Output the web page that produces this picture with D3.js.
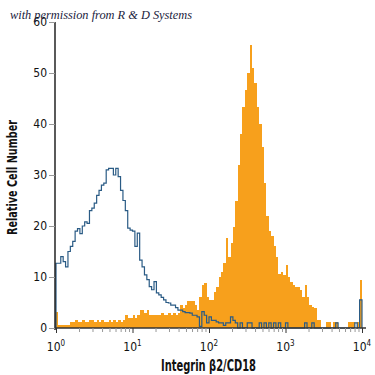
<!DOCTYPE html>
<html><head><meta charset="utf-8">
<script src="https://cdn.jsdelivr.net/npm/d3@7"></script>
<style>
html,body{margin:0;padding:0;background:#fff;}
svg{display:block;}
</style></head>
<body>
<svg id="c" width="375" height="375"></svg>
<script>
// ---- data ----
const binsPerDecade = 32;
const xDomain = [1, 10000];
const yTicks = [0, 10, 20, 30, 40, 50, 60];
const xMajorTicks = [1, 10, 100, 1000, 10000];
const xTickExponents = ["0", "1", "2", "3", "4"];
const title = "with permission from R & D Systems";
const xLabel = "Integrin β2/CD18";
const yLabel = "Relative Cell Number";

// isotype control (blue outline), 128 bins over 4 decades
const isotype = [
 12.7,12.7,14,13,12,15,16,17,19,19.5,18.5,20,20.8,20.5,23,23.5,
 24.5,26,27,28,28.4,31,31.3,31.3,30,31.3,29.7,27,25,23,19.6,19.2,
 19,16,18.6,13.3,12,10.4,9.5,8.1,7.5,9.1,6.9,6.5,6,5.5,5,4.9,
 4.5,4.5,4,3.5,3.5,3.2,3,3,2.9,2.5,2.5,2.2,0.3,3.2,2.5,1,
 2.2,1.5,1.5,1.2,1,1,0.5,1,1,2.2,1.5,1,0,1,0,0,
 1,1,0,0,0,1,0,1,0,1,0,1,0,1,0,0,
 1,0,0,0,0,0,0,0,1,0,0,1,0,0,0,0,
 0,0,0,0,0,1,0,0,0,0,0,0,0,1,0,5.5
];
// stained sample (orange filled), 128 bins
const stained = [
 3.2,0.6,0.6,0.6,0.6,0.6,1.2,1.2,1.5,1.2,1.2,1.5,1.2,1.2,1.5,1.5,
 1.2,1.5,1.2,1.5,1.2,1.2,1.5,1.2,1.5,1.2,1.5,1.2,1.5,2.5,2,2,
 2.5,2,2.5,3.5,3.5,3,3.5,2.5,2.5,2.5,2.5,2.5,3,2.5,2.5,3,
 2.5,3,2.5,3,4.5,4,4.5,5.2,5.2,5.2,4.5,3.5,6,8.4,8.8,6,
 5.5,5.5,7,8,10,11,12.7,17.6,14,16.6,19.9,25,32,38,43.4,46.7,
 50,55.5,51,48,43.4,40,35.5,28.4,22,19,18,16,14,10.5,11,10.4,
 12.4,10,9,8.5,8.1,8,7.5,6.1,8.4,6,4.5,4.2,4,1.6,1.6,0,
 0,1.2,1.2,0,1.2,1.2,0,0,0,0,1.2,1.2,1.2,0,1.2,9.4
];

// ---- chart ----
const svg = d3.select("#c");
const font = "'DejaVu Sans Condensed','Liberation Sans Narrow',sans-serif";
const x = d3.scaleLog().domain(xDomain).range([56, 362]);
const y = d3.scaleLinear().domain([0, 60]).range([328, 22]);
const edge = i => Math.pow(10, i / binsPerDecade);
const steps = arr => {
  const p = [[1, 0]];
  arr.forEach((d, i) => { p.push([edge(i), d]); p.push([edge(i + 1), d]); });
  p.push([edge(arr.length), 0]);
  return p;
};
const line = d3.line().x(d => x(d[0])).y(d => y(d[1]));

// orange filled histogram
svg.append("path").attr("d", line(steps(stained)) + "Z")
  .attr("fill", "#f7a01c").attr("stroke", "none").attr("shape-rendering", "crispEdges");

// blue step outline
svg.append("path").attr("d", line(steps(isotype)))
  .attr("fill", "none").attr("stroke", "#2a5b85").attr("stroke-width", 1.2);

// y axis
const ya = svg.append("g").attr("transform", "translate(55,0)")
  .call(d3.axisLeft(y).tickValues(yTicks).tickSize(6).tickPadding(2));
ya.select(".domain").attr("stroke", "#000").attr("stroke-width", 1.3).attr("d", "M0,22V330");
ya.selectAll(".tick line").attr("stroke", "#999");
ya.selectAll(".tick text").attr("font-family", font).attr("font-size", 12).attr("fill", "#111");

// x axis
const minor = [];
for (let p = 0; p < 4; p++) for (let k = 2; k <= 9; k++) minor.push(k * Math.pow(10, p));
const xa = svg.append("g").attr("transform", "translate(0,328)");
xa.call(d3.axisBottom(x).tickValues(xMajorTicks).tickSize(5).tickFormat(""));
xa.select(".domain").attr("stroke", "#333").attr("stroke-width", 1.3).attr("d", "M55,0H366");
xa.selectAll(".tick line").attr("stroke", "#333");
const xm = svg.append("g").attr("transform", "translate(0,328)")
  .call(d3.axisBottom(x).tickValues(minor).tickSize(4).tickFormat(""));
xm.select(".domain").remove();
xm.selectAll(".tick line").attr("stroke", "#999");

const lbl = svg.append("g");
xMajorTicks.forEach((v, i) => {
  const t = lbl.append("text").attr("x", x(v)).attr("y", 351)
    .attr("text-anchor", "middle").attr("font-family", font).attr("font-size", 12).attr("fill", "#111");
  t.append("tspan").text("10");
  t.append("tspan").attr("dy", -5).attr("font-size", 8).text(xTickExponents[i]);
});

// labels
svg.append("text").attr("x", 161).attr("y", 371)
  .attr("textLength", 95).attr("lengthAdjust", "spacingAndGlyphs")
  .attr("font-family", font).attr("font-weight", "bold").attr("font-size", 15).attr("fill", "#111").text(xLabel);
svg.append("text").attr("transform", "translate(17,235) rotate(-90)")
  .attr("textLength", 115).attr("lengthAdjust", "spacingAndGlyphs")
  .attr("font-family", font).attr("font-weight", "bold").attr("font-size", 14).attr("fill", "#111").text(yLabel);
svg.append("text").attr("x", 10).attr("y", 19)
  .attr("textLength", 182).attr("lengthAdjust", "spacingAndGlyphs")
  .attr("font-family", "'Liberation Serif','DejaVu Serif',serif").attr("font-style", "italic")
  .attr("font-size", 12).attr("fill", "#1b2340").text(title);
</script>
</body></html>
